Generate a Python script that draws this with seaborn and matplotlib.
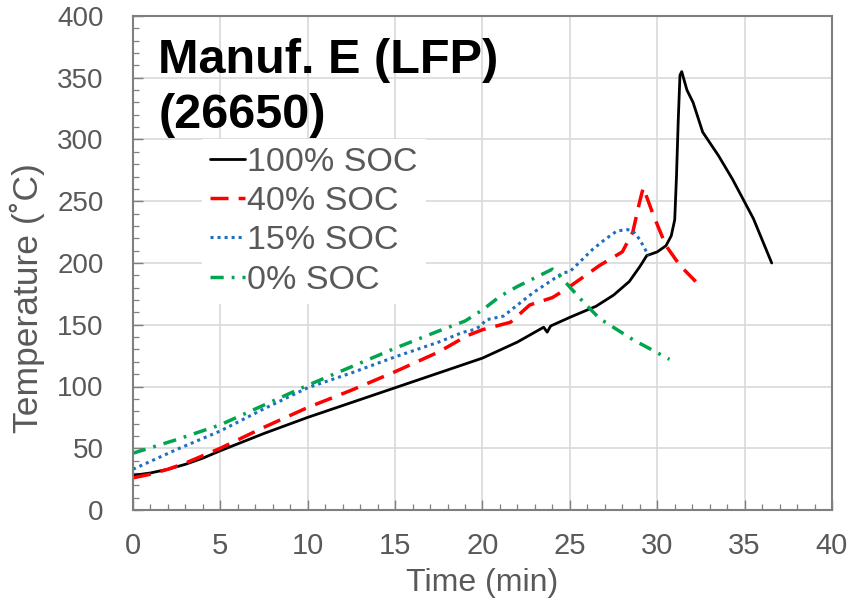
import matplotlib
matplotlib.use("Agg")
import matplotlib.pyplot as plt
from matplotlib.ticker import MultipleLocator
import seaborn as sns
import pandas as pd

# ---- data ----
soc100_t = [0, 1, 2, 3, 4, 5, 7.5, 10, 12.5, 15, 17.5, 20, 22, 23.5, 23.7, 23.9, 25, 26.5,
            27.5, 28.4, 29.0, 29.4, 30.0, 30.5, 30.8, 31.0, 31.1, 31.2, 31.3, 31.4, 31.7,
            32.05, 32.6, 33.5, 34.3, 35.5, 36.55]
soc100_T = [28, 30, 33, 37, 42, 48, 62, 75, 87, 99, 111, 123, 136, 148, 144, 149, 156, 165,
            174, 185, 197, 206, 209, 214, 222, 235, 270, 315, 352, 355, 340,
            330, 306, 287, 268, 236, 200]

soc40_t = [0, 1, 2, 3, 4, 5, 7.5, 10, 12.5, 15, 17.5, 19.1, 20, 21.6, 22.7, 24, 24.8, 26.7,
           28.0, 28.6, 29.0, 29.2, 29.8, 30.5, 31.3, 32.2]
soc40_T = [26, 29, 33, 38, 44, 50, 67, 83, 97, 112, 128, 141, 146, 152, 166, 172, 179, 198,
           209, 225, 250, 261, 238, 214, 198, 185]

soc15_t = [0, 2.5, 5, 7.5, 10, 12.5, 15, 17.5, 18.9, 19.5, 19.9, 20.2, 21.2, 22, 22.9, 24.6,
           25, 26.3, 27.0, 27.7, 28.3, 28.6, 29.0, 29.5]
soc15_T = [33, 49, 64, 82, 99, 111, 124, 136, 144, 146, 149, 154, 157, 166, 176, 192,
           193, 211, 219, 226, 227, 226, 219, 206]

soc0_t = [0, 2.5, 5, 7.5, 10, 12.5, 15, 17.5, 19, 20, 21, 22, 23, 24, 24.4, 25.6, 26.7, 28.6, 30.7]
soc0_T = [46, 57, 69, 85, 101, 116, 131, 145, 153, 162, 173, 181, 188, 195, 190, 171, 155, 138, 122]

series_labels = ["100% SOC", "40% SOC", "15% SOC", "0% SOC"]
x_ticks = [0, 5, 10, 15, 20, 25, 30, 35, 40]
y_ticks = [0, 50, 100, 150, 200, 250, 300, 350, 400]

# ---- style ----
sns.set_style("white")
plt.rcParams["font.family"] = ["Liberation Sans", "DejaVu Sans"]

fig = plt.figure(figsize=(8.53, 6.06), dpi=100)
ax = fig.add_axes([133 / 853, 96 / 606, 699 / 853, 494 / 606])

styles = [
    dict(color="black", lw=2.0, ls="-"),
    dict(color="#ff0000", lw=2.5, ls=(0, (5.2, 2.9))),
    dict(color="#1f6fc0", lw=2.2, ls=(0, (1.0, 1.3))),
    dict(color="#00a550", lw=2.5, ls=(0, (3.8, 2.3, 0.8, 2.3))),
]
all_t = [soc100_t, soc40_t, soc15_t, soc0_t]
all_T = [soc100_T, soc40_T, soc15_T, soc0_T]

for t, T, lab, st in zip(all_t, all_T, series_labels, styles):
    df = pd.DataFrame({"Time": t, "Temp": T})
    sns.lineplot(data=df, x="Time", y="Temp", ax=ax, estimator=None, sort=False,
                 color=st["color"], linewidth=st["lw"], linestyle=st["ls"], label=lab)

ax.set_xlim(0, 40)
ax.set_ylim(0, 400)
ax.set_xticks(x_ticks)
ax.set_yticks(y_ticks)
ax.xaxis.set_minor_locator(MultipleLocator(1))
ax.yaxis.set_minor_locator(MultipleLocator(10))
ax.grid(True, which="major", color="#d9d9d9", linewidth=1.2)
ax.set_axisbelow(True)

tick_gray = "#595959"
ax.tick_params(which="both", bottom=True, left=True, top=False, right=False)
ax.tick_params(which="major", direction="in", length=7, width=1.0, color="#7f7f7f",
               labelsize=20, labelcolor=tick_gray)
ax.tick_params(axis="y", which="major", pad=21)
ax.tick_params(axis="x", which="major", pad=16, labelsize=21)
ax.tick_params(which="minor", direction="in", length=4, width=0.9, color="#7f7f7f")
for sp in ax.spines.values():
    sp.set_color("#7f7f7f")
    sp.set_linewidth(1.5)

ax.set_xlabel("Time (min)", fontsize=23, color=tick_gray)
ax.set_ylabel("Temperature (˚C)", fontsize=25.5, color=tick_gray)
ax.xaxis.set_label_coords(0.5, -0.118)
ax.yaxis.set_label_coords(-0.126, 0.43)

ax.text(0.036, 0.885, "Manuf. E (LFP)", transform=ax.transAxes, fontsize=35,
        fontweight="bold", color="black", va="baseline", ha="left")
ax.text(0.036, 0.773, "(26650)", transform=ax.transAxes, fontsize=35,
        fontweight="bold", color="black", va="baseline", ha="left")

leg = ax.legend(loc="upper left", bbox_to_anchor=(0.098, 0.752), borderaxespad=0,
                fontsize=24.5, frameon=True, facecolor="white", edgecolor="none",
                framealpha=1, fancybox=False, handlelength=1.02, handletextpad=0.08,
                labelspacing=0.24, borderpad=0.25)
for txt in leg.get_texts():
    txt.set_color(tick_gray)
leg.set_zorder(5)

fig.savefig("out.png", dpi=100, facecolor="white")
